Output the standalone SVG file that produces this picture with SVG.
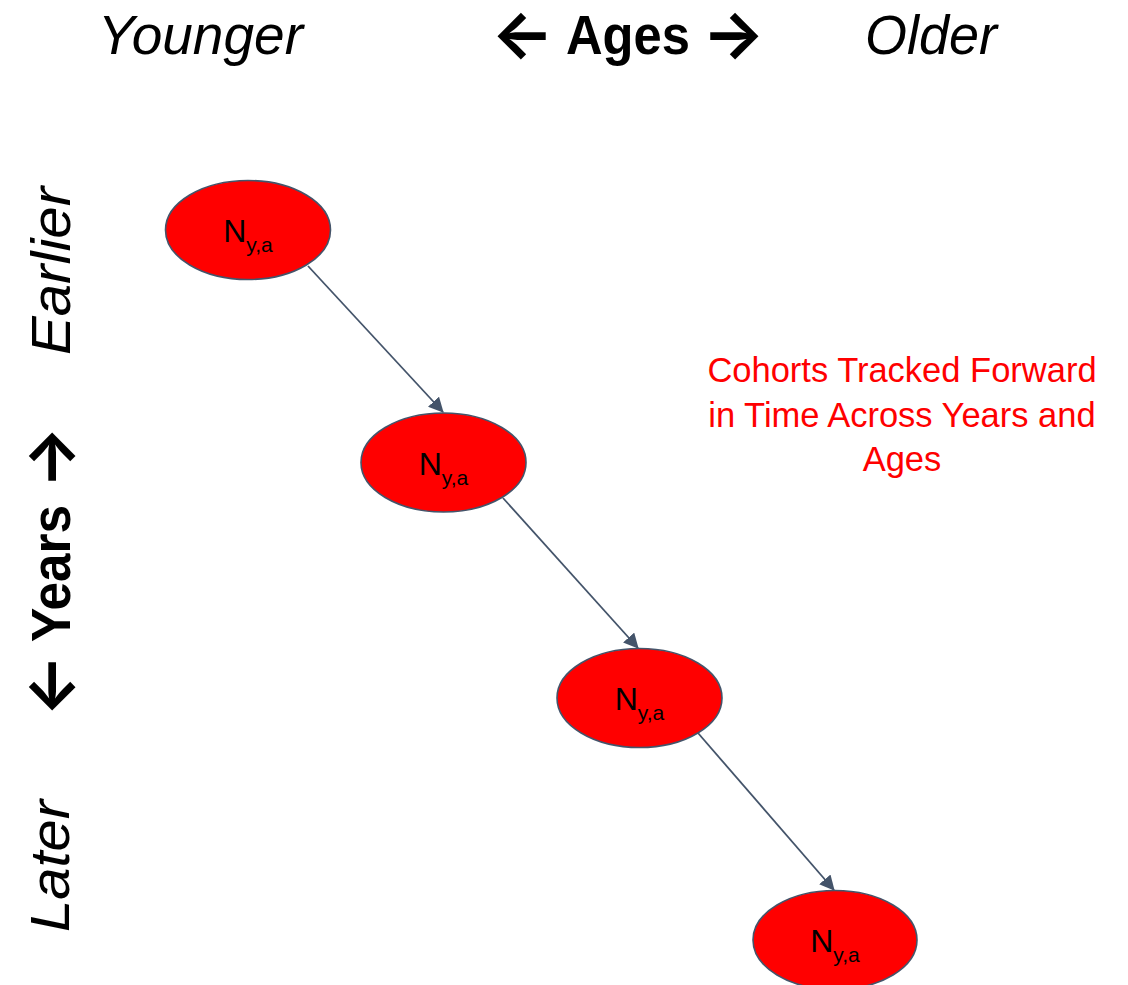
<svg xmlns="http://www.w3.org/2000/svg" width="1128" height="985" viewBox="0 0 1128 985">
<style>
.hdr{font-family:"Liberation Sans",Arial,sans-serif;font-size:56px;fill:#000}
.it{font-style:italic}
.bd{font-weight:bold}
.arw{font-family:Inter,"DejaVu Sans",sans-serif;font-weight:bold;font-size:66px}
.node ellipse{fill:#FF0000;stroke:#44546A;stroke-width:1.6}
.lbl{font-family:"Liberation Sans",Arial,sans-serif;font-size:32px;fill:#000;text-anchor:middle}
.sub{font-size:21px}
.note{font-family:"Liberation Sans",Arial,sans-serif;font-size:34.5px;fill:#FF0000;text-anchor:middle}
.conn line{stroke:#44546A;stroke-width:1.8;fill:none}
</style>
<defs>
<marker id="ah" markerUnits="userSpaceOnUse" viewBox="0 0 15 15" markerWidth="15" markerHeight="15" refX="14" refY="7.5" orient="auto">
<path d="M0,0 L15,7.5 L0,15 Z" fill="#44546A"/>
</marker>
</defs>
<rect width="1128" height="985" fill="#FFFFFF"/>
<g id="headers">
<text class="hdr it" x="98" y="54" textLength="205" lengthAdjust="spacingAndGlyphs">Younger</text>
<text class="hdr bd" y="54"><tspan class="arw" x="491" y="57">←</tspan><tspan x="566" y="54" textLength="124" lengthAdjust="spacingAndGlyphs">Ages</tspan><tspan class="arw" x="702" y="57">→</tspan></text>
<text class="hdr it" x="865" y="54" textLength="132" lengthAdjust="spacingAndGlyphs">Older</text>
<text class="hdr it" transform="translate(70,355) rotate(-90)" x="0" y="0" textLength="168" lengthAdjust="spacingAndGlyphs">Earlier</text>
<text class="hdr bd" transform="translate(70,710) rotate(-90)" y="0"><tspan class="arw" x="-7" y="3">←</tspan><tspan x="68" y="0" textLength="137" lengthAdjust="spacingAndGlyphs">Years</tspan><tspan class="arw" x="221" y="3">→</tspan></text>
<text class="hdr it" transform="translate(69,932) rotate(-90)" x="0" y="0" textLength="132" lengthAdjust="spacingAndGlyphs">Later</text>
</g>
<g id="note">
<text class="note" x="902" y="382">Cohorts Tracked Forward</text>
<text class="note" x="902" y="427">in Time Across Years and</text>
<text class="note" x="902" y="471">Ages</text>
</g>
<g class="conn" id="connectors">
<line x1="308" y1="266" x2="443" y2="412" marker-end="url(#ah)"/>
<line x1="503" y1="498" x2="638" y2="648" marker-end="url(#ah)"/>
<line x1="698" y1="733" x2="834" y2="890" marker-end="url(#ah)"/>
</g>
<g class="node" id="node1">
<ellipse cx="248" cy="230" rx="82.5" ry="49.5"/>
<text class="lbl" x="248" y="242">N<tspan class="sub" dy="10">y,a</tspan></text>
</g>
<g class="node" id="node2">
<ellipse cx="443.5" cy="462.5" rx="82.5" ry="49.5"/>
<text class="lbl" x="443.5" y="474.5">N<tspan class="sub" dy="10">y,a</tspan></text>
</g>
<g class="node" id="node3">
<ellipse cx="639.5" cy="698" rx="82.5" ry="49.5"/>
<text class="lbl" x="639.5" y="710">N<tspan class="sub" dy="10">y,a</tspan></text>
</g>
<g class="node" id="node4">
<ellipse cx="835" cy="940" rx="82" ry="49.5"/>
<text class="lbl" x="835" y="952">N<tspan class="sub" dy="10">y,a</tspan></text>
</g>
</svg>
